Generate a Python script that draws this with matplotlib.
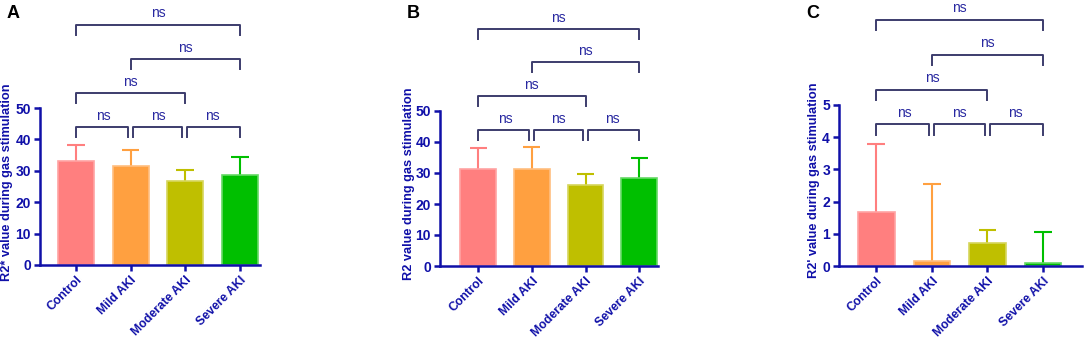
import matplotlib as mpl
mpl.use('Agg')
import matplotlib.pyplot as plt
import matplotlib.transforms as mtransforms

plt.rcParams['font.family'] = ['Liberation Sans', 'DejaVu Sans']

groups = ['Control', 'Mild AKI', 'Moderate AKI', 'Severe AKI']
colors = ['#ff7f7f', '#ffa040', '#bfbf00', '#00bf00']
edge_colors = ['#ffa3a3', '#ffbf80', '#d6d65c', '#66d966']

r2star_mean = [33.2, 31.5, 26.9, 28.6]
r2star_top = [38.2, 36.5, 30.2, 34.5]
r2_mean = [31.4, 31.2, 26.1, 28.4]
r2_top = [38.1, 38.5, 29.8, 34.9]
r2p_mean = [1.67, 0.15, 0.72, 0.09]
r2p_top = [3.80, 2.54, 1.13, 1.06]

# (i, j, level) pairs compared, all not significant
comparisons = [(0, 1, 0), (1, 2, 0), (2, 3, 0), (0, 2, 1), (1, 3, 2), (0, 3, 3)]

panels = [
    ('A', r2star_mean, r2star_top, 50, 10, "R2* value during gas stimulation",
     [40/1084, 75/340, 220/1084, 157/340], (-0.66, 3.37), -0.122),
    ('B', r2_mean, r2_top, 50, 10, "R2 value during gas stimulation",
     [440/1084, 74/340, 218/1084, 155/340], (-0.71, 3.35), -0.115),
    ('C', r2p_mean, r2p_top, 5, 1, "R2' value during gas stimulation",
     [839/1084, 74/340, 243/1084, 161/340], (-0.67, 3.70), -0.078),
]

blue = '#1010a8'
bracket_col = '#3c3c6c'

fig = plt.figure(figsize=(10.84, 3.4), dpi=100)

for letter, mean, top, ymax, step, ylabel, rect, xl, labx in panels:
    ax = fig.add_axes(rect)
    x = range(len(groups))
    ax.bar(x, mean, width=0.66, color=colors, edgecolor=edge_colors, linewidth=1.2, zorder=2)
    for xi, m, t, c in zip(x, mean, top, colors):
        ax.vlines(xi, m, t, color=c, linewidth=1.5, zorder=1)
        ax.hlines(t, xi - 0.16, xi + 0.16, color=c, linewidth=1.5, zorder=1)
    ax.set_xlim(*xl)
    ax.set_ylim(0, ymax)
    ax.set_yticks([i * step for i in range(6)])
    ax.set_xticks(list(x))
    ax.set_xticklabels(groups, rotation=45, ha='right', rotation_mode='anchor',
                       fontsize=8.8, fontweight='bold', color=blue)
    for lab in ax.get_yticklabels():
        lab.set_fontsize(10)
        lab.set_fontweight('bold')
        lab.set_color(blue)
    ax.set_ylabel(ylabel, fontsize=9.2, fontweight='bold', color=blue)
    ax.yaxis.set_label_coords(labx, 0.53)
    for s in ['top', 'right']:
        ax.spines[s].set_visible(False)
    for s in ['left', 'bottom']:
        ax.spines[s].set_color(blue)
        ax.spines[s].set_linewidth(1.8)
    ax.tick_params(axis='both', colors=blue, width=1.8, length=4.5, pad=2)

    trans = mtransforms.blended_transform_factory(ax.transData, ax.transAxes)
    for i, j, level in comparisons:
        y = 0.879 + 0.217 * level
        x0, x1 = i, j
        if level == 0:
            if i > 0:
                x0 += 0.04
            if j < 3:
                x1 -= 0.05
        ax.plot([x0, x0, x1, x1], [y - 0.064, y, y, y - 0.064], color=bracket_col,
                linewidth=1.4, transform=trans, clip_on=False)
        ax.text((i + j) / 2, y + 0.072, 'ns', transform=trans, ha='center', va='center',
                fontsize=10, color='#2828a0')

    fig.text(rect[0] - 33/1084, 1 - 14/340, letter, fontsize=13, fontweight='bold',
             color='black', ha='left', va='center')

fig.savefig('out.png', dpi=100)
